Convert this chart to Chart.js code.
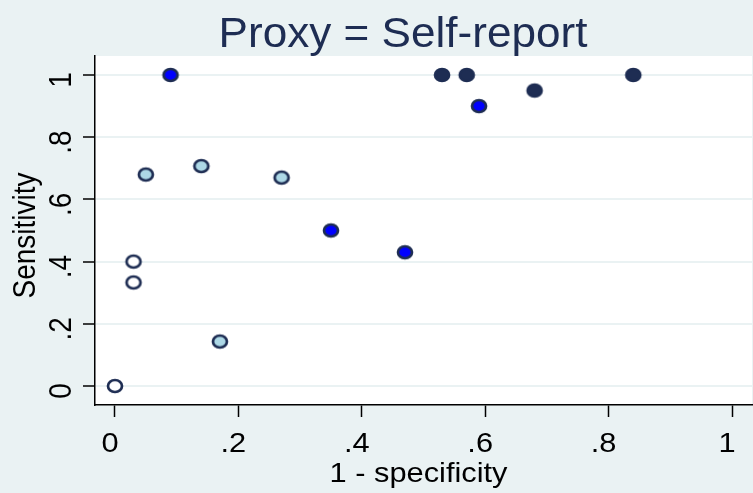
<!DOCTYPE html>
<html>
<head>
<meta charset="utf-8">
<script src="https://cdn.jsdelivr.net/npm/chart.js@4.4.1/dist/chart.umd.min.js"></script>
<style>
  html, body { margin: 0; padding: 0; background: #eaf2f3; }
  canvas { display: block; }
</style>
</head>
<body>
<canvas id="chart" width="753" height="493"></canvas>
<script>
// values: x = 1 - specificity, y = sensitivity
const hollowX = [0, 0.03, 0.03];
const hollowY = [0, 0.333, 0.4];
const lightX = [0.05, 0.14, 0.27, 0.17];
const lightY = [0.68, 0.707, 0.67, 0.143];
const blueX = [0.09, 0.35, 0.47, 0.59];
const blueY = [1, 0.5, 0.43, 0.9];
const navyX = [0.53, 0.57, 0.68, 0.84];
const navyY = [1, 1, 0.95, 1];

const xTicks = [0, 0.2, 0.4, 0.6, 0.8, 1];
const xTickLabels = ['0', '.2', '.4', '.6', '.8', '1'];
const yTicks = [0, 0.2, 0.4, 0.6, 0.8, 1];
const yTickLabels = ['0', '.2', '.4', '.6', '.8', '1'];

const chartTitle = 'Proxy = Self-report';
const xTitle = '1 - specificity';
const yTitle = 'Sensitivity';

const NAVY = '#1e2d53';
const BG = '#eaf2f3';
const FONT = '"Liberation Sans", Arial, sans-serif';

const toPoints = (xs, ys) => xs.map((x, i) => ({ x, y: ys[i] }));

// stata markers come out a bit wider than tall, so draw them as small ellipses
function marker(fill) {
  const c = document.createElement('canvas');
  c.width = 20; c.height = 18;
  const ctx = c.getContext('2d');
  ctx.beginPath();
  ctx.ellipse(10, 9, 7, 6, 0, 0, Math.PI * 2);
  ctx.fillStyle = fill;
  ctx.fill();
  ctx.lineWidth = 2.7;
  ctx.strokeStyle = NAVY;
  ctx.stroke();
  return c;
}

function text(ctx, str, x, y, { size = 28, color = '#000', stretch = 1.1, rotate = false } = {}) {
  ctx.save();
  ctx.translate(x, y);
  ctx.scale(stretch, 1);
  if (rotate) ctx.rotate(-Math.PI / 2);
  ctx.font = `${size}px ${FONT}`;
  ctx.fillStyle = color;
  ctx.textAlign = 'center';
  ctx.textBaseline = 'alphabetic';
  ctx.fillText(str, 0, 0);
  ctx.restore();
}

const stataLook = {
  id: 'stataLook',
  beforeDraw(chart) {
    const { ctx, chartArea: a } = chart;
    ctx.save();
    ctx.fillStyle = '#fff';
    ctx.fillRect(a.left, a.top, a.right - a.left, a.bottom - a.top);
    ctx.restore();
  },
  afterDraw(chart) {
    const { ctx, scales: { x, y } } = chart;
    text(ctx, chartTitle, 403, 47, { size: 42, color: NAVY, stretch: 1.05 });
    xTicks.forEach((v, i) => text(ctx, xTickLabels[i], x.getPixelForValue(v) - 5, 452));
    yTicks.forEach((v, i) => text(ctx, yTickLabels[i], 71, y.getPixelForValue(v) + 5, { rotate: true }));
    text(ctx, xTitle, (x.left + x.right) / 2 - 5, 482);
    text(ctx, yTitle, 35, (y.top + y.bottom) / 2 + 5, { rotate: true });
  }
};

const dataset = (xs, ys, fill) => ({
  data: toPoints(xs, ys),
  pointStyle: marker(fill),
  pointRadius: 8,
  pointHoverRadius: 8
});

new Chart(document.getElementById('chart'), {
  type: 'scatter',
  data: {
    datasets: [
      dataset(hollowX, hollowY, '#ffffff'),
      dataset(lightX, lightY, '#add8e6'),
      dataset(blueX, blueY, '#0000ff'),
      dataset(navyX, navyY, NAVY)
    ]
  },
  options: {
    responsive: false,
    animation: false,
    devicePixelRatio: 1,
    layout: { autoPadding: false, padding: { top: 56, right: 1, left: 0, bottom: 0 } },
    plugins: { legend: { display: false }, tooltip: { enabled: false }, title: { display: false } },
    scales: {
      x: {
        type: 'linear',
        min: -0.0324, max: 1.0324,
        afterFit: s => { s.height = 88; },
        afterBuildTicks: s => { s.ticks = xTicks.map(v => ({ value: v })); },
        ticks: { display: false },
        grid: { drawOnChartArea: false, drawTicks: true, tickLength: 12, tickColor: '#000', tickWidth: 1.5 },
        border: { display: true, color: '#000', width: 1.5 }
      },
      y: {
        type: 'linear',
        min: -0.061, max: 1.061,
        afterFit: s => { s.width = 95; },
        afterBuildTicks: s => { s.ticks = yTicks.map(v => ({ value: v })); },
        ticks: { display: false },
        grid: { color: BG, lineWidth: 2, drawTicks: true, tickLength: 12, tickColor: '#000', tickWidth: 1.5 },
        border: { display: true, color: '#000', width: 1.5 }
      }
    }
  },
  plugins: [stataLook]
});
</script>
</body>
</html>
